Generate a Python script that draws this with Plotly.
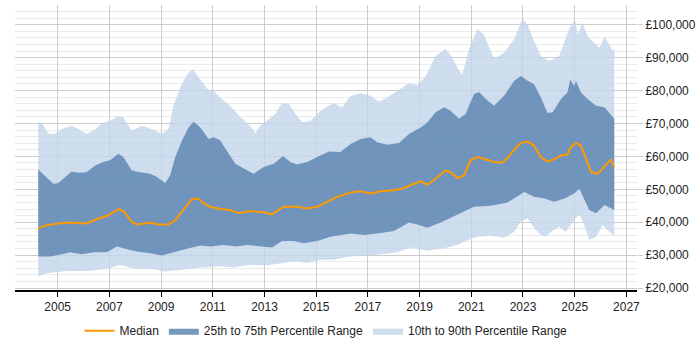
import plotly.graph_objects as go

# ---- data (decimal years, GBP) ----
p90_x = [2004.25, 2004.4, 2004.67, 2004.9, 2005.15, 2005.54, 2005.8, 2006.12, 2006.38, 2006.7, 2007.03, 2007.35, 2007.54, 2007.87, 2008.26, 2008.64, 2009.03, 2009.29, 2009.48, 2009.74, 2010.0, 2010.23, 2010.52, 2010.77, 2011.03, 2011.29, 2011.68, 2012.07, 2012.39, 2012.65, 2012.84, 2013.1, 2013.42, 2013.68, 2013.94, 2014.2, 2014.46, 2014.78, 2015.17, 2015.68, 2016.0, 2016.33, 2016.72, 2017.1, 2017.43, 2017.75, 2018.14, 2018.59, 2018.92, 2019.24, 2019.62, 2020.0, 2020.27, 2020.52, 2020.65, 2020.91, 2021.24, 2021.49, 2021.88, 2022.27, 2022.66, 2022.98, 2023.18, 2023.43, 2023.69, 2024.02, 2024.4, 2024.6, 2024.8, 2025.01, 2025.12, 2025.3, 2025.5, 2025.75, 2025.96, 2026.15, 2026.34, 2026.47, 2026.53]
p90_y = [70500, 69900, 66800, 66800, 68300, 69300, 68300, 66800, 67800, 69900, 70900, 72200, 71900, 67800, 69300, 68300, 66800, 68300, 75400, 80900, 84900, 86500, 83400, 80600, 79900, 77900, 75400, 71900, 69800, 67100, 69300, 70800, 72900, 76200, 75900, 72900, 70400, 70800, 73900, 76200, 74900, 78400, 79200, 78400, 76600, 77900, 79900, 82200, 81600, 84400, 90500, 92700, 90000, 86000, 84900, 92500, 98700, 97000, 89700, 91500, 95700, 101800, 100000, 95000, 90500, 89000, 90500, 94500, 99000, 101600, 97000, 100600, 96500, 94500, 93000, 96300, 94000, 92000, 93000]

p75_x = [2004.25, 2004.5, 2004.83, 2005.02, 2005.28, 2005.54, 2005.8, 2006.12, 2006.45, 2006.77, 2007.03, 2007.35, 2007.54, 2007.87, 2008.19, 2008.58, 2008.84, 2009.16, 2009.35, 2009.55, 2009.81, 2010.06, 2010.26, 2010.52, 2010.84, 2011.03, 2011.29, 2011.55, 2011.87, 2012.2, 2012.58, 2012.97, 2013.36, 2013.72, 2014.0, 2014.26, 2014.65, 2015.04, 2015.49, 2015.94, 2016.33, 2016.72, 2017.1, 2017.36, 2017.75, 2018.2, 2018.59, 2019.04, 2019.3, 2019.62, 2019.95, 2020.2, 2020.52, 2020.78, 2021.1, 2021.3, 2021.56, 2021.88, 2022.27, 2022.66, 2022.92, 2023.18, 2023.43, 2023.69, 2023.95, 2024.15, 2024.47, 2024.72, 2024.83, 2024.98, 2025.05, 2025.24, 2025.5, 2025.83, 2026.15, 2026.53]
p75_y = [56000, 54200, 51700, 51800, 53700, 55400, 55000, 55200, 57200, 58300, 58800, 60800, 59800, 55700, 55200, 54700, 53700, 51900, 54200, 59800, 64800, 68800, 70500, 68800, 65300, 65800, 64800, 61800, 57800, 56300, 54700, 56800, 57800, 60100, 58300, 57500, 58300, 59800, 61500, 61300, 63800, 65300, 65800, 64300, 63500, 64100, 66800, 68800, 70300, 73400, 74900, 73900, 71400, 72900, 78900, 79600, 77400, 75400, 78400, 83000, 84400, 83000, 81900, 77900, 73200, 73400, 77400, 79400, 83400, 81400, 83000, 79400, 77400, 75400, 74900, 71400]

median_x = [2004.25, 2004.57, 2005.02, 2005.48, 2006.12, 2006.51, 2006.96, 2007.35, 2007.57, 2007.87, 2008.06, 2008.58, 2008.9, 2009.29, 2009.55, 2009.93, 2010.19, 2010.45, 2010.64, 2010.9, 2011.29, 2011.68, 2012.0, 2012.45, 2012.97, 2013.29, 2013.49, 2013.74, 2014.26, 2014.65, 2015.04, 2015.43, 2015.81, 2016.33, 2016.72, 2017.1, 2017.49, 2018.01, 2018.4, 2018.79, 2019.04, 2019.3, 2019.62, 2020.0, 2020.2, 2020.46, 2020.72, 2020.97, 2021.24, 2021.49, 2021.88, 2022.2, 2022.4, 2022.66, 2022.92, 2023.18, 2023.43, 2023.69, 2023.95, 2024.21, 2024.47, 2024.72, 2024.85, 2025.05, 2025.24, 2025.44, 2025.63, 2025.89, 2026.15, 2026.4, 2026.53]
median_y = [38100, 39100, 39600, 39900, 39600, 40900, 42100, 44000, 43200, 40100, 39300, 39800, 39300, 39300, 40600, 44200, 47000, 47200, 45700, 44700, 44000, 43700, 42700, 43400, 43000, 42400, 43400, 44700, 44700, 44200, 44700, 46200, 47700, 49000, 49400, 48700, 49400, 49700, 50400, 51700, 52400, 51400, 53200, 55700, 55200, 53400, 54200, 58800, 59800, 59300, 58300, 58100, 59500, 62100, 64100, 64500, 63300, 59800, 58500, 59100, 60300, 60500, 62800, 64100, 63300, 59300, 55300, 54700, 56800, 59000, 56800]

p25_x = [2004.25, 2004.7, 2005.09, 2005.48, 2005.93, 2006.38, 2006.9, 2007.29, 2007.61, 2008.06, 2008.58, 2009.03, 2009.48, 2010.0, 2010.52, 2010.9, 2011.42, 2011.94, 2012.32, 2012.84, 2013.29, 2013.68, 2014.13, 2014.52, 2015.04, 2015.55, 2016.33, 2016.85, 2017.36, 2018.01, 2018.59, 2018.92, 2019.3, 2019.82, 2020.33, 2020.72, 2021.1, 2021.75, 2022.4, 2023.05, 2023.43, 2023.82, 2024.21, 2024.6, 2024.98, 2025.18, 2025.37, 2025.56, 2025.83, 2026.15, 2026.53]
p25_y = [29600, 29600, 30100, 30900, 30300, 30900, 30900, 32600, 31900, 31100, 30600, 29900, 30900, 31900, 32900, 32600, 33100, 32600, 33100, 32600, 32300, 34300, 34300, 33600, 34300, 35600, 36600, 36100, 36600, 37300, 39900, 39300, 38300, 39900, 41700, 43200, 44700, 45000, 46000, 49200, 47700, 47200, 46200, 47200, 48700, 50200, 47200, 43700, 42700, 45200, 43700]

p10_x = [2004.25, 2004.57, 2005.35, 2006.12, 2006.9, 2007.42, 2008.06, 2008.71, 2009.1, 2009.74, 2010.52, 2011.29, 2011.81, 2012.39, 2013.1, 2013.74, 2014.13, 2014.65, 2015.17, 2015.68, 2016.33, 2017.36, 2018.14, 2018.66, 2019.3, 2019.95, 2020.46, 2020.85, 2021.24, 2021.75, 2022.27, 2022.66, 2022.92, 2023.18, 2023.43, 2023.69, 2023.89, 2024.08, 2024.4, 2024.66, 2024.92, 2025.18, 2025.37, 2025.56, 2025.83, 2026.08, 2026.34, 2026.53]
p10_y = [23500, 24500, 25200, 25200, 25800, 27000, 25800, 25800, 25000, 25500, 26200, 26600, 26200, 27000, 26900, 27600, 28100, 27600, 28600, 28600, 29600, 30100, 30900, 32300, 31300, 32100, 33100, 34600, 35600, 35900, 35300, 37100, 40300, 41100, 38300, 36100, 35600, 37100, 38600, 37100, 40100, 42400, 39100, 34600, 35600, 39100, 37100, 35900]

x_ticks = [2005, 2007, 2009, 2011, 2013, 2015, 2017, 2019, 2021, 2023, 2025, 2027]
y_ticks = [20000, 30000, 40000, 50000, 60000, 70000, 80000, 90000, 100000]
y_labels = ["£{:,}".format(v) for v in y_ticks]

LIGHT = "rgba(195,214,234,0.8)"
DARK = "rgba(95,135,179,0.85)"
ORANGE = "#ff9900"

fig = go.Figure()
fig.add_trace(go.Scatter(
    x=p90_x + p10_x[::-1], y=p90_y + p10_y[::-1],
    fill="toself", fillcolor=LIGHT, mode="lines", line=dict(width=0, color=LIGHT),
    name="10th to 90th Percentile Range", legendrank=3, hoverinfo="skip"))
fig.add_trace(go.Scatter(
    x=p75_x + p25_x[::-1], y=p75_y + p25_y[::-1],
    fill="toself", fillcolor=DARK, mode="lines", line=dict(width=0, color=DARK),
    name="25th to 75th Percentile Range", legendrank=2, hoverinfo="skip"))
fig.add_trace(go.Scatter(
    x=median_x, y=median_y, mode="lines", line=dict(color=ORANGE, width=2),
    name="Median", legendrank=1))

fig.update_layout(
    width=700, height=350,
    margin=dict(l=15, r=63, t=5, b=58),
    paper_bgcolor="white", plot_bgcolor="white",
    font=dict(family="Liberation Sans, Arial, sans-serif", size=12, color="#222"),
    showlegend=True,
    legend=dict(orientation="h", x=0.5, xanchor="center", y=-0.143, yanchor="middle",
                font=dict(size=12, color="#222"), itemwidth=30, traceorder="normal"),
    xaxis=dict(range=[2003.35, 2027.41], tickvals=x_ticks, ticktext=[str(v) for v in x_ticks],
               showgrid=True, gridcolor="#cccccc", gridwidth=1,
               showline=True, linecolor="#000", linewidth=1.5,
               ticks="outside", ticklen=5, tickcolor="#000", zeroline=False),
    yaxis=dict(range=[19400, 106000], side="right", tickvals=y_ticks, ticktext=y_labels,
               showgrid=True, gridcolor="#cccccc", gridwidth=1,
               minor=dict(dtick=2000, tick0=0, showgrid=True, gridcolor="#eaeaea", gridwidth=1),
               ticks="outside", ticklen=5, tickcolor="#cccccc",
               showline=False, zeroline=False),
)

fig.write_html("out.html")
